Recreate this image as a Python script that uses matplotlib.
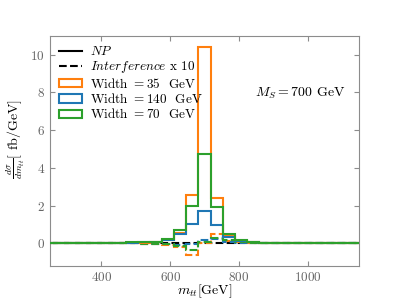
import numpy as np
import matplotlib
matplotlib.use("Agg")
import matplotlib.pyplot as plt
from matplotlib.lines import Line2D
from matplotlib.patches import Patch

plt.rcParams['font.family'] = 'serif'
plt.rcParams['font.serif'] = ['cmr10']
plt.rcParams['mathtext.fontset'] = 'cm'
plt.rcParams['axes.formatter.use_mathtext'] = True

# bin edges of m_tt [GeV], 35 GeV bins centred on 700
edges = np.arange(227.5, 1173, 35)

# NP distributions dsigma/dm_tt [fb/GeV]
np_w35 = [0.01, 0.01, 0.02, 0.02, 0.02, 0.03, 0.03, 0.04, 0.05, 0.07, 0.2, 0.55,
          2.55, 10.4, 2.4, 0.4, 0.15, 0.07, 0.04, 0.03, 0.02, 0.02, 0.01, 0.01, 0.01, 0.01, 0.01]
np_w140 = [0.01, 0.01, 0.02, 0.02, 0.03, 0.03, 0.04, 0.05, 0.06, 0.08, 0.2, 0.5,
           1.02, 1.72, 1.0, 0.36, 0.15, 0.07, 0.04, 0.03, 0.02, 0.02, 0.01, 0.01, 0.01, 0.01, 0.01]
np_w70 = [0.01, 0.01, 0.02, 0.02, 0.03, 0.04, 0.05, 0.06, 0.07, 0.09, 0.26, 0.7,
          2.0, 4.75, 1.92, 0.5, 0.2, 0.08, 0.04, 0.03, 0.02, 0.02, 0.01, 0.01, 0.01, 0.01, 0.01]

# interference x 10
int_w35 = [0.0, 0.0, 0.0, 0.0, 0.0, 0.0, 0.0, 0.0, -0.01, -0.03, -0.06, -0.18,
           -0.62, 0.02, 0.52, 0.15, 0.06, 0.02, 0.01, 0.0, 0.0, 0.0, 0.0, 0.0, 0.0, 0.0, 0.0]
int_w140 = [0.0, 0.0, 0.0, 0.0, 0.0, 0.0, 0.0, 0.0, -0.01, -0.02, -0.04, -0.08,
            -0.05, 0.17, 0.25, 0.1, 0.04, 0.02, 0.01, 0.0, 0.0, 0.0, 0.0, 0.0, 0.0, 0.0, 0.0]
int_w70 = [0.0, 0.0, 0.0, 0.0, 0.0, 0.0, 0.0, 0.0, -0.01, -0.03, -0.05, -0.12,
           -0.35, 0.08, 0.3, 0.2, 0.06, 0.02, 0.01, 0.0, 0.0, 0.0, 0.0, 0.0, 0.0, 0.0, 0.0]

widths = [35, 140, 70]
colors = ['#ff7f0e', '#1f77b4', '#2ca02c']
np_sets = [np_w35, np_w140, np_w70]
int_sets = [int_w35, int_w140, int_w70]

fig, ax = plt.subplots(figsize=(3.99, 2.99), dpi=100)

ax.axhline(0, color='black', ls='--', lw=1.5, zorder=1)
handles = [Line2D([], [], color='black', lw=1.5),
           Line2D([], [], color='black', lw=1.5, ls='--')]
labels = [r'$NP$', r'$Interference$ x 10']
for w, c, vn, vi in zip(widths, colors, np_sets, int_sets):
    ax.stairs(vi, edges, color=c, ls='--', lw=1.5, zorder=2)
    ax.stairs(vn, edges, color=c, lw=1.5, zorder=3)
    handles.append(Patch(facecolor='none', edgecolor=c, lw=1.5))
    labels.append(r'Width $=%d$  GeV' % w)

ax.legend(handles, labels, loc='upper left', frameon=False, fontsize=9.5,
          handlelength=1.75, handleheight=0.6, labelspacing=0.1,
          borderaxespad=0.3, handletextpad=0.6)

ax.text(0.81, 0.75, r'$M_S = 700$ GeV', transform=ax.transAxes,
        ha='center', va='center', fontsize=10)

ax.set_xlim(250, 1150)
ax.set_ylim(-1.2, 11)
ax.set_xticks([400, 600, 800, 1000])
ax.set_yticks([0, 2, 4, 6, 8, 10])
ax.set_xlabel(r'$m_{tt}$[GeV]', fontsize=10)
ax.set_ylabel(r'$\frac{d\sigma}{dm_{tt}}$[ fb/GeV]', fontsize=10)
ax.xaxis.set_label_coords(0.5, -0.072)
ax.yaxis.set_label_coords(-0.075, 0.55)

for s in ax.spines.values():
    s.set_color('0.55')
ax.tick_params(direction='in', top=True, right=True, colors='0.55',
               labelcolor='0.4', labelsize=9.5)

fig.savefig('out.png', dpi=100)
